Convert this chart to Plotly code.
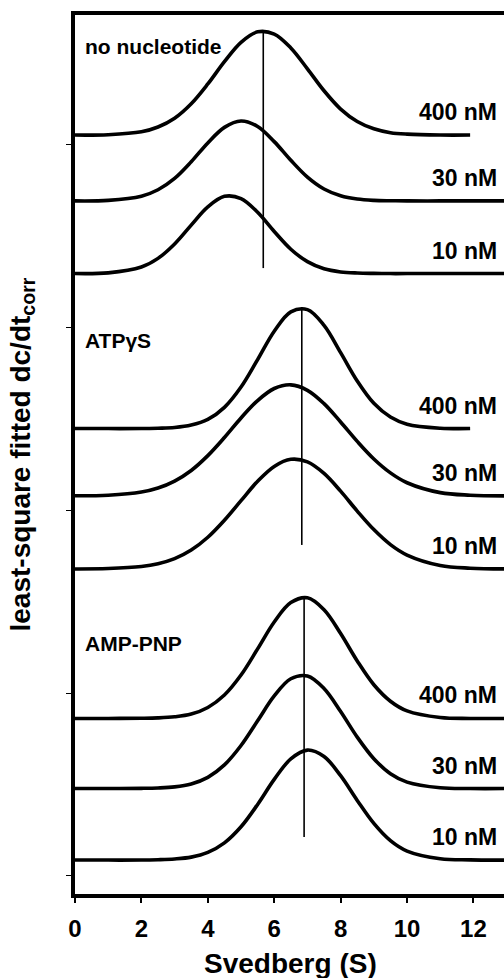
import plotly.graph_objects as go

# ---- data ----
S = [0, 1, 2, 2.5, 3, 3.5, 4, 4.5, 5, 5.5, 6, 6.5, 7, 7.5, 8, 8.5, 9, 9.5, 10, 11, 11.9, 13]

none_400 = [4.049, 4.051, 4.067, 4.093, 4.141, 4.220, 4.328, 4.450, 4.556, 4.613, 4.601, 4.525,
            4.411, 4.291, 4.191, 4.123, 4.083, 4.062, 4.054, 4.049, 4.049, None]
none_30 = [3.689, 3.692, 3.715, 3.750, 3.812, 3.903, 4.006, 4.091, 4.126, 4.096, 4.013, 3.911,
           3.819, 3.754, 3.717, 3.699, 3.692, 3.690, 3.689, 3.689, 3.689, 3.689]
none_10 = [3.292, 3.296, 3.328, 3.375, 3.454, 3.557, 3.656, 3.714, 3.702, 3.627, 3.522, 3.425,
           3.357, 3.318, 3.301, 3.295, 3.293, 3.292, 3.292, 3.292, 3.292, 3.292]
atp_400 = [2.445, 2.445, 2.445, 2.447, 2.451, 2.464, 2.495, 2.561, 2.672, 2.822, 2.977, 3.083,
           3.095, 3.009, 2.860, 2.705, 2.583, 2.508, 2.469, 2.447, 2.445, None]
atp_30 = [2.078, 2.081, 2.098, 2.120, 2.158, 2.216, 2.297, 2.396, 2.503, 2.598, 2.664, 2.684,
          2.654, 2.581, 2.481, 2.375, 2.279, 2.203, 2.149, 2.095, 2.081, 2.077]
atp_10 = [1.678, 1.680, 1.691, 1.706, 1.734, 1.781, 1.851, 1.944, 2.051, 2.157, 2.238, 2.277,
          2.263, 2.200, 2.103, 1.994, 1.893, 1.811, 1.754, 1.697, 1.682, 1.678]
amp_400 = [0.861, 0.861, 0.862, 0.864, 0.870, 0.885, 0.921, 0.989, 1.098, 1.241, 1.388, 1.494,
           1.520, 1.455, 1.325, 1.175, 1.045, 0.955, 0.902, 0.866, 0.861, 0.861]
amp_30 = [0.478, 0.478, 0.479, 0.481, 0.487, 0.503, 0.539, 0.607, 0.713, 0.848, 0.984, 1.078,
          1.093, 1.025, 0.899, 0.759, 0.641, 0.559, 0.513, 0.482, 0.478, 0.478]
amp_10 = [0.087, 0.087, 0.087, 0.089, 0.093, 0.103, 0.129, 0.181, 0.269, 0.391, 0.528, 0.640,
          0.688, 0.653, 0.548, 0.413, 0.287, 0.193, 0.136, 0.094, 0.088, 0.087]

curves = [none_400, none_30, none_10, atp_400, atp_30, atp_10, amp_400, amp_30, amp_10]
conc_labels = ["400 nM", "30 nM", "10 nM"] * 3

group_labels = ["no nucleotide", "ATP\u03b3S", "AMP-PNP"]
group_label_y = [4.532, 2.926, 1.268]

ref_s = [5.67, 6.83, 6.90]
ref_top = [4.612, 3.109, 1.525]
ref_bottom = [3.322, 1.809, 0.213]

x_ticks = [0, 2, 4, 6, 8, 10, 12]
y_ticks = [0, 1, 2, 3, 4]

FONT = "Arial, Liberation Sans, sans-serif"

fig = go.Figure()
for ys in curves:
    fig.add_trace(go.Scatter(x=S, y=ys, mode="lines", line=dict(color="black", width=3.6, shape="spline"),
                             hoverinfo="skip", showlegend=False))
for xs, y0, y1 in zip(ref_s, ref_top, ref_bottom):
    fig.add_trace(go.Scatter(x=[xs, xs], y=[y0, y1], mode="lines", line=dict(color="black", width=1.6),
                             hoverinfo="skip", showlegend=False))

ann = []
for ys, lab in zip(curves, conc_labels):
    base = [v for v in ys if v is not None][-1]
    ann.append(dict(x=12.77, y=base, xref="x", yref="y", text=f"<b>{lab}</b>", showarrow=False,
                    xanchor="right", yanchor="middle", yshift=23,
                    font=dict(family=FONT, size=23, color="black")))
for lab, yy in zip(group_labels, group_label_y):
    ann.append(dict(x=0.23, y=yy, xref="x", yref="y", text=f"<b>{lab}</b>", showarrow=False,
                    xanchor="left", yanchor="middle",
                    font=dict(family=FONT, size=21, color="black")))
ann.append(dict(x=0.502, y=-0.0785, xref="paper", yref="paper", text="<b>Svedberg (S)</b>",
                showarrow=False, xanchor="center", yanchor="middle",
                font=dict(family=FONT, size=28, color="black")))
ann.append(dict(x=-0.1235, y=0.5, xref="paper", yref="paper",
                text="<b>least-square fitted dc/dt<sub>corr</sub></b>", textangle=-90,
                showarrow=False, xanchor="center", yanchor="middle",
                font=dict(family=FONT, size=28, color="black")))

fig.update_layout(
    width=504, height=978,
    margin=dict(l=75, r=0, t=15, b=84),
    paper_bgcolor="white", plot_bgcolor="white",
    annotations=ann,
    xaxis=dict(range=[0, 12.92], tickvals=x_ticks, ticks="outside", ticklen=5, tickwidth=1.5,
               tickcolor="black", showline=True, linecolor="black", linewidth=3.5, mirror=True,
               showgrid=False, zeroline=False, ticklabelstandoff=5,
               tickfont=dict(family=FONT, size=24, color="black", weight="bold")),
    yaxis=dict(range=[-0.0984, 4.705], tickvals=y_ticks, ticks="outside", ticklen=5, tickwidth=1,
               tickcolor="black", showline=True, linecolor="black", linewidth=3.5, mirror=False,
               showgrid=False, zeroline=False, showticklabels=False),
)

fig.write_html("out.html")
